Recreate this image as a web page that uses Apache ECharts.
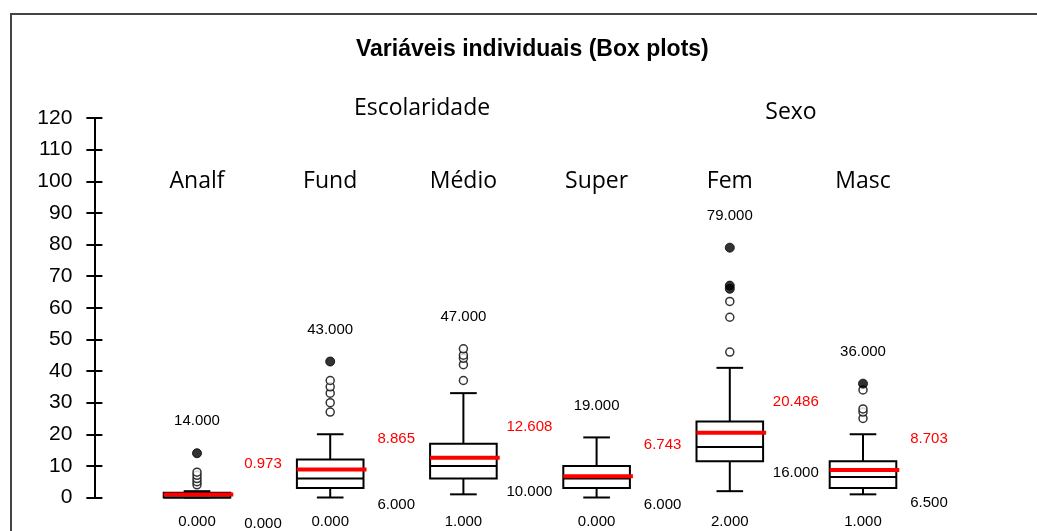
<!DOCTYPE html>
<html>
<head>
<meta charset="utf-8">
<script src="https://cdn.jsdelivr.net/npm/echarts@6/dist/echarts.min.js"></script>
<style>
html, body { margin: 0; padding: 0; background: #fff; }
#main { width: 1037px; height: 531px; }
</style>
</head>
<body>
<div id="main"></div>
<script>
// dados
var categorias = ['Analf', 'Fund', 'Médio', 'Super', 'Fem', 'Masc'];
var minimos  = [0, 0, 1, 0, 2, 1];
var q1       = [0, 3, 6, 3, 11.5, 3];
var medianas = [0, 6, 10, 6, 16, 6.5];
var q3       = [1.5, 12, 17, 10, 24, 11.5];
var bigodes  = [2, 20, 33, 19, 41, 20];
var medias   = [0.973, 8.865, 12.608, 6.743, 20.486, 8.703];
var maximos  = [14, 43, 47, 19, 79, 36];
// outliers (abertos) e pontos cheios, por categoria
var outAbertos = [[4, 5, 6, 7, 8], [27, 30, 33, 35, 37], [37, 42, 44, 45, 47], [], [46, 57, 62], [25, 27, 28, 34]];
var outCheios  = [[14], [43], [], [], [66, 67, 79], [36]];
var yTicks = [0, 120, 10];

var myChart = echarts.init(document.getElementById('main'));

function pontos(lista) {
    var r = [];
    lista.forEach(function (vals, i) {
        vals.forEach(function (v) { r.push([i, v]); });
    });
    return r;
}

function renderBox(params, api) {
    var i = api.value(0);
    var bw = api.size([1, 0])[0];
    var half = bw * 0.25, cap = bw * 0.1;
    var x = api.coord([i, 0])[0];
    function y(v) { return api.coord([i, v])[1]; }
    var yMin = y(api.value(1)), yQ1 = y(api.value(2)), yMed = y(api.value(3));
    var yQ3 = y(api.value(4)), yMax = y(api.value(5)), yMean = y(api.value(6));
    var ls = { stroke: '#000', lineWidth: 2 };
    return {
        type: 'group',
        children: [
            { type: 'line', shape: { x1: x, y1: yQ3, x2: x, y2: yMax }, style: ls },
            { type: 'line', shape: { x1: x - cap, y1: yMax, x2: x + cap, y2: yMax }, style: ls },
            { type: 'line', shape: { x1: x, y1: yQ1, x2: x, y2: yMin }, style: ls },
            { type: 'line', shape: { x1: x - cap, y1: yMin, x2: x + cap, y2: yMin }, style: ls },
            { type: 'rect', shape: { x: x - half, y: yQ3, width: half * 2, height: yQ1 - yQ3 },
              style: { fill: '#fff', stroke: '#000', lineWidth: 2 } },
            { type: 'line', shape: { x1: x - half, y1: yMed, x2: x + half, y2: yMed }, style: ls },
            { type: 'line', shape: { x1: x - half, y1: yMean, x2: x + half + 3, y2: yMean },
              style: { stroke: '#ff0000', lineWidth: 4 } }
        ]
    };
}

var fonteNum = 'Liberation Sans, Arial, sans-serif';
function rotulo(dx, dy, cor) {
    return {
        show: true, position: 'inside', offset: [dx, dy],
        color: cor, fontSize: 15, fontFamily: fonteNum,
        textBorderWidth: 0, opacity: 1,
        formatter: function (p) { return p.value[1].toFixed(3); }
    };
}

var eixoY = {
    type: 'value', min: yTicks[0], max: yTicks[1], interval: yTicks[2],
    position: 'left', offset: 36,
    axisLine: { show: true, lineStyle: { color: '#000', width: 2 } },
    splitLine: { show: false }
};

option = {
    backgroundColor: '#fff',
    animation: false,
    title: {
        text: 'Variáveis individuais (Box plots)',
        left: 351, top: 33,
        textStyle: { fontSize: 23, fontWeight: 'bold', color: '#000', fontFamily: fonteNum }
    },
    graphic: [
        { type: 'rect', z: -1, shape: { x: 11, y: 14, width: 1040, height: 530 },
          style: { fill: 'none', stroke: '#444', lineWidth: 2 } },
        { type: 'text', x: 422, y: 108,
          style: { text: 'Escolaridade', font: '23px "Open Sans"', fill: '#000', textAlign: 'center', textVerticalAlign: 'middle' } },
        { type: 'text', x: 791, y: 112,
          style: { text: 'Sexo', font: '23px "Open Sans"', fill: '#000', textAlign: 'center', textVerticalAlign: 'middle' } }
    ],
    grid: { left: 130.4, right: 107.4, top: 118, bottom: 33.5 },
    xAxis: [
        {
            type: 'category', data: categorias, position: 'top', offset: -75,
            axisLine: { show: false }, axisTick: { show: false },
            axisLabel: { margin: 0, fontSize: 23, color: '#000', fontFamily: 'Open Sans' }
        },
        {
            type: 'category', data: categorias, position: 'bottom',
            axisLine: { show: false }, axisTick: { show: false },
            axisLabel: {
                margin: 17, fontSize: 15, color: '#000', fontFamily: fonteNum,
                formatter: function (v, i) { return minimos[i].toFixed(3); }
            }
        }
    ],
    yAxis: [
        Object.assign({}, eixoY, {
            axisTick: { show: true, length: 8, lineStyle: { color: '#000', width: 2 } },
            axisLabel: { margin: 22, fontSize: 21, color: '#000', fontFamily: fonteNum }
        }),
        Object.assign({}, eixoY, {
            axisTick: { show: true, inside: true, length: 8, lineStyle: { color: '#000', width: 2 } },
            axisLabel: { show: false }
        })
    ],
    series: [
        {
            type: 'custom', name: 'box',
            renderItem: renderBox,
            encode: { x: 0, y: [1, 2, 3, 4, 5, 6] },
            data: categorias.map(function (c, i) {
                return [i, minimos[i], q1[i], medianas[i], q3[i], bigodes[i], medias[i]];
            }),
            z: 2
        },
        {
            type: 'scatter', name: 'outliers', symbolSize: 8,
            itemStyle: { color: '#fff', borderColor: '#000', borderWidth: 1.5 },
            data: pontos(outAbertos), z: 3
        },
        {
            type: 'scatter', name: 'extremos', symbolSize: 9,
            itemStyle: { color: '#000', borderColor: '#000', borderWidth: 1 },
            data: pontos(outCheios), z: 4
        },
        {
            type: 'scatter', name: 'max', symbolSize: 0, itemStyle: { color: '#000' },
            label: rotulo(0, -32, '#000'),
            data: maximos.map(function (v, i) { return [i, v]; }), z: 5
        },
        {
            type: 'scatter', name: 'media', symbolSize: 0, itemStyle: { color: '#ff0000' },
            label: rotulo(66, -31, '#ff0000'),
            data: medias.map(function (v, i) { return [i, v]; }), z: 5
        },
        {
            type: 'scatter', name: 'mediana', symbolSize: 0, itemStyle: { color: '#000' },
            label: rotulo(66, 26, '#000'),
            data: medianas.map(function (v, i) { return [i, v]; }), z: 5
        }
    ]
};

myChart.setOption(option);
</script>
</body>
</html>
